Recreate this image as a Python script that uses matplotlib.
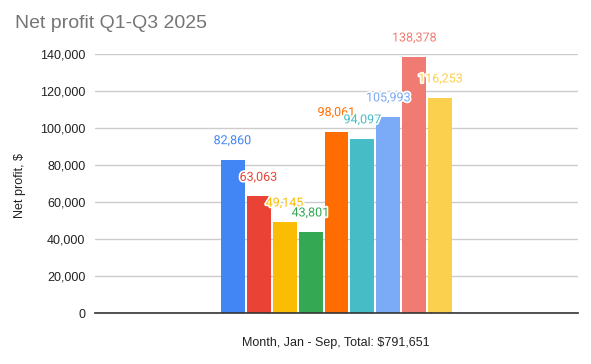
import matplotlib
matplotlib.use("Agg")
import matplotlib.pyplot as plt
import matplotlib.patheffects as pe
from matplotlib.ticker import FuncFormatter

months = ["Jan", "Feb", "Mar", "Apr", "May", "Jun", "Jul", "Aug", "Sep"]
profits = [82860, 63063, 49145, 43801, 98061, 94097, 105993, 138378, 116253]
colors = ["#4285F4", "#EA4335", "#FBBC04", "#34A853", "#FF6D01",
          "#46BDC6", "#7BAAF7", "#F07B72", "#FCD04F"]
yticks = [0, 20000, 40000, 60000, 80000, 100000, 120000, 140000]

fig = plt.figure(figsize=(5.91, 3.64), dpi=100)
ax = fig.add_axes([95/591, 1 - 313/364, (578 - 95)/591, (313 - 54)/364])

x = list(range(len(months)))
bars = ax.bar(x, profits, width=0.923, color=colors, zorder=3)

for xi, v, c in zip(x, profits, colors):
    ax.annotate(f"{v:,}", xy=(xi, v), xytext=(0, 13.7), textcoords="offset points",
                ha="center", va="center", color=c, fontsize=9, family="Roboto",
                zorder=5,
                path_effects=[pe.withStroke(linewidth=2.5, foreground="white")])

ax.set_xlim(4 - 9.29, 4 + 9.29)
ax.set_ylim(0, 140000)
ax.set_yticks(yticks)
ax.yaxis.set_major_formatter(FuncFormatter(lambda v, p: f"{int(v):,}"))
ax.grid(axis="y", color="#cccccc", linewidth=1, zorder=0)
ax.set_xticks([])
for s in ["top", "right", "left"]:
    ax.spines[s].set_visible(False)
ax.spines["bottom"].set_color("#333333")
ax.spines["bottom"].set_linewidth(1.2)
ax.spines["bottom"].set_zorder(4)
ax.tick_params(axis="y", length=0, pad=7, labelsize=9, labelcolor="#222222")
for lbl in ax.get_yticklabels():
    lbl.set_family("Liberation Sans")

ax.set_ylabel("Net profit, $", fontsize=9, family="Liberation Sans", color="#222222", labelpad=12)
ax.yaxis.set_label_coords(20/591 - 95/591, 0.5, transform=None) if False else None
fig.text(20/591, 1 - 185/364, "Net profit, $", rotation=90, ha="center", va="center",
         fontsize=9, family="Liberation Sans", color="#222222")
ax.set_ylabel("")
fig.text(336/591, 1 - 343/364, "Month, Jan - Sep, Total: $791,651", ha="center", va="center",
         fontsize=9, family="Liberation Sans", color="#222222")
fig.text(15/591, 1 - 23/364, "Net profit Q1-Q3 2025", ha="left", va="center",
         fontsize=14, family="Liberation Sans", color="#757575")

fig.savefig("out.png", dpi=100)
